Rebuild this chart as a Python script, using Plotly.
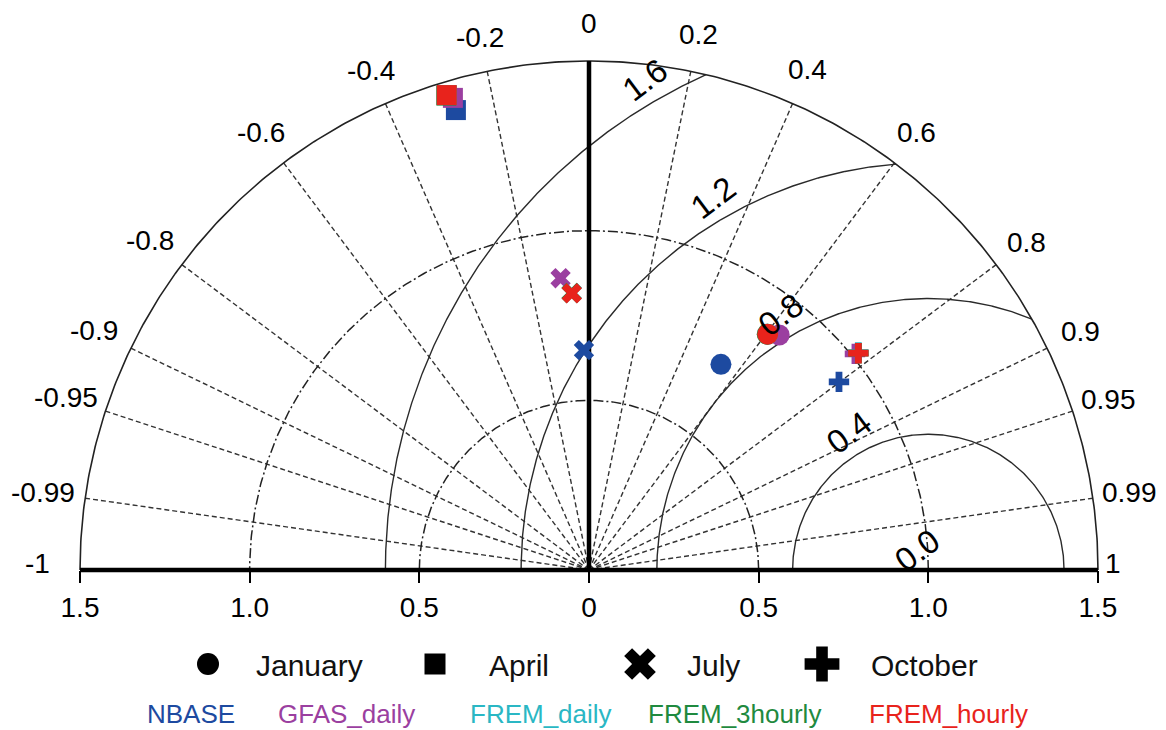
import numpy as np
import plotly.graph_objects as go

# ---------------- data (std dev, correlation) ----------------
months = ["January", "April", "July", "October"]
datasets = ["NBASE", "GFAS_daily", "FREM_daily", "FREM_3hourly", "FREM_hourly"]
colors = ["#1d4aa0", "#9b3fa0", "#2ab7c4", "#1f8a3f", "#e8231c"]

nbase_std = [0.720, 1.411, 0.648, 0.922]
nbase_cor = [0.540, -0.278, -0.023, 0.799]
gfas_std = [0.891, 1.448, 0.864, 1.010]
gfas_cor = [0.629, -0.277, -0.097, 0.776]
fremd_std = [0.872, 1.461, 0.818, 1.020]
fremd_cor = [0.604, -0.287, -0.062, 0.778]
frem3_std = [0.871, 1.460, 0.818, 1.019]
frem3_cor = [0.603, -0.288, -0.063, 0.779]
fremh_std = [0.872, 1.461, 0.817, 1.019]
fremh_cor = [0.604, -0.287, -0.062, 0.779]

std_all = [nbase_std, gfas_std, fremd_std, frem3_std, fremh_std]
cor_all = [nbase_cor, gfas_cor, fremd_cor, frem3_cor, fremh_cor]

month_symbols = ["circle", "square", "x", "cross"]
month_sizes = [21, 20, 18, 17]

corr_ticks = [-0.99, -0.95, -0.9, -0.8, -0.6, -0.4, -0.2, 0, 0.2, 0.4, 0.6, 0.8, 0.9, 0.95, 0.99]
corr_labels = ["-0.99", "-0.95", "-0.9", "-0.8", "-0.6", "-0.4", "-0.2", "0",
               "0.2", "0.4", "0.6", "0.8", "0.9", "0.95", "0.99"]
std_arcs = [0.5, 1.0]
rms_levels = [0.0, 0.4, 0.8, 1.2, 1.6]
rms_labels = ["0.0", "0.4", "0.8", "1.2", "1.6"]
x_ticks = [-1.5, -1.0, -0.5, 0, 0.5, 1.0, 1.5]
x_ticktext = ["1.5", "1.0", "0.5", "0", "0.5", "1.0", "1.5"]
RMAX = 1.5
REF = 1.0

FONT = "Liberation Sans, Arial, Helvetica, sans-serif"
GRID = "#333333"

fig = go.Figure()

# radial correlation lines
xs, ys = [], []
for c in corr_ticks:
    th = np.arccos(c)
    xs += [0, RMAX * np.cos(th), None]
    ys += [0, RMAX * np.sin(th), None]
fig.add_trace(go.Scatter(x=xs, y=ys, mode="lines", hoverinfo="skip", showlegend=False,
                         line=dict(color=GRID, width=1.4, dash="5px,3px")))

# std dev arcs (dash-dot)
t = np.linspace(0, np.pi, 400)
for r in std_arcs:
    fig.add_trace(go.Scatter(x=r * np.cos(t), y=r * np.sin(t), mode="lines", hoverinfo="skip",
                             showlegend=False,
                             line=dict(color="#222222", width=1.5, dash="10px,3px,2px,3px")))

# RMS arcs around reference point (only the part inside the outer arc)
for R in rms_levels:
    if R <= 0:
        continue
    if REF + R <= RMAX:
        p = np.linspace(0, np.pi, 400)
    else:
        xi = (RMAX ** 2 + REF ** 2 - R ** 2) / (2 * REF)
        yi = np.sqrt(max(RMAX ** 2 - xi ** 2, 0))
        phi0 = np.arctan2(yi, xi - REF)
        p = np.linspace(phi0, np.pi, 400)
    fig.add_trace(go.Scatter(x=REF + R * np.cos(p), y=R * np.sin(p), mode="lines",
                             hoverinfo="skip", showlegend=False,
                             line=dict(color="#2a2a2a", width=1.4)))

# outer arc
fig.add_trace(go.Scatter(x=RMAX * np.cos(t), y=RMAX * np.sin(t), mode="lines", hoverinfo="skip",
                         showlegend=False, line=dict(color="#222222", width=1.6)))
# axes: baseline and vertical
fig.add_trace(go.Scatter(x=[-RMAX, RMAX], y=[0, 0], mode="lines", hoverinfo="skip",
                         showlegend=False, line=dict(color="black", width=4.5)))
fig.add_trace(go.Scatter(x=[0, 0], y=[0, RMAX], mode="lines", hoverinfo="skip",
                         showlegend=False, line=dict(color="black", width=4.5)))

# data points
for di, name in enumerate(datasets):
    for mi, m in enumerate(months):
        s = std_all[di][mi]
        c = cor_all[di][mi]
        th = np.arccos(c)
        fig.add_trace(go.Scatter(x=[s * np.cos(th)], y=[s * np.sin(th)], mode="markers",
                                 name=f"{name} {m}", showlegend=False,
                                 marker=dict(symbol=month_symbols[mi], size=month_sizes[mi],
                                             color=colors[di], line=dict(width=0))))

TICKSIZE = 28
# correlation labels
for c, lab in zip(corr_ticks, corr_labels):
    th = np.arccos(c)
    rr = (1.595 + 0.03 * abs(c)) if c < 0 else 1.61
    fig.add_annotation(x=rr * np.cos(th), y=rr * np.sin(th), text=lab, showarrow=False,
                       xanchor="center", yanchor="middle",
                       font=dict(size=TICKSIZE, color="black", family=FONT))
fig.add_annotation(x=-1.625, y=0.02, text="-1", showarrow=False, xanchor="center", yanchor="middle",
                   font=dict(size=TICKSIZE, color="black", family=FONT))
fig.add_annotation(x=1.545, y=0.02, text="1", showarrow=False, xanchor="center", yanchor="middle",
                   font=dict(size=TICKSIZE, color="black", family=FONT))

# RMS labels
ang = np.deg2rad(120)
for R, lab in zip(rms_levels, rms_labels):
    d = R + 0.068
    fig.add_annotation(x=REF + d * np.cos(ang), y=d * np.sin(ang), text=lab, showarrow=False,
                       textangle=-37, xanchor="center", yanchor="middle",
                       font=dict(size=33, color="black", family=FONT))

# ---------------- legend (drawn manually) ----------------
W, H = 1166, 730
SCALE = 339.33
OX, OY = 589, 570


def px2x(p):
    return (p - OX) / SCALE


def py2y(p):
    return (OY - p) / SCALE


leg_marker_px = [208, 435, 640, 822]
leg_text_px = [254, 487, 685, 869]
leg_sizes = [22, 21, 28, 29]
for mi, m in enumerate(months):
    fig.add_trace(go.Scatter(x=[px2x(leg_marker_px[mi])], y=[py2y(664)], mode="markers",
                             showlegend=False, hoverinfo="skip",
                             marker=dict(symbol=month_symbols[mi], size=leg_sizes[mi], color="black")))
    fig.add_annotation(x=leg_text_px[mi] / W, y=1 - 665 / H, xref="paper", yref="paper", text=m,
                       showarrow=False, xanchor="left", yanchor="middle",
                       font=dict(size=30, color="#111111", family=FONT))

name_px = [191, 346, 541, 734, 948]
for di, name in enumerate(datasets):
    fig.add_annotation(x=name_px[di] / W, y=1 - 714 / H, xref="paper", yref="paper", text=name,
                       showarrow=False, xanchor="center", yanchor="middle",
                       font=dict(size=26, color=colors[di], family=FONT))

x0 = -OX / SCALE
x1 = (W - OX) / SCALE
y1 = OY / SCALE
y0 = -(H - OY) / SCALE

fig.update_xaxes(range=[x0, x1], showgrid=False, zeroline=False, showline=False,
                 tickvals=x_ticks, ticktext=x_ticktext, ticks="outside", ticklen=12, tickwidth=1.5,
                 tickcolor="black", anchor="free", position=(H - OY) / H,
                 tickfont=dict(size=TICKSIZE, color="black", family=FONT), automargin=False,
                 fixedrange=True)
fig.update_yaxes(range=[y0, y1], visible=False, showgrid=False, zeroline=False, fixedrange=True)

fig.update_layout(width=W, height=H, autosize=False, margin=dict(l=0, r=0, t=0, b=0),
                  plot_bgcolor="white", paper_bgcolor="white", showlegend=False,
                  font=dict(family=FONT))

fig.write_html("out.html", config={"displayModeBar": False},
               post_script="document.body.style.margin='0';document.body.style.overflow='hidden';")
